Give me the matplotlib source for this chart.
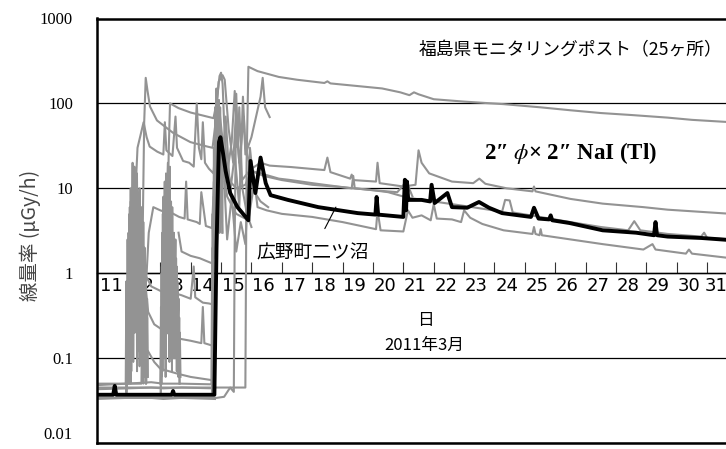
import numpy as np
import matplotlib
matplotlib.use("Agg")
import matplotlib.pyplot as plt
from matplotlib.ticker import FixedLocator, FixedFormatter, NullFormatter

# --- 広野町二ツ沼 (NaI) ---
hirono_day = [10.89, 11.45, 11.5, 11.55, 13.38, 13.42, 13.46, 14.78, 14.85, 14.93, 14.98, 15.05,
              15.15, 15.3, 15.54, 15.9, 15.97, 16.13, 16.3, 16.47, 16.63, 17.2, 18.2, 19.5,
              20.08, 20.12, 20.17, 21.0, 21.05, 21.09, 21.12, 21.16, 21.6, 21.88, 21.93, 22.03,
              22.45, 22.6, 23.1, 23.49, 23.82, 24.25, 25.2, 25.3, 25.45, 25.8, 25.85, 25.9,
              26.47, 27.56, 28.66, 29.25, 29.3, 29.35, 29.7, 30.8, 31.8]
hirono_dose = [0.037, 0.037, 0.047, 0.037, 0.037, 0.041, 0.037, 0.037, 2.0, 35, 40, 28,
               16, 8.8, 6.0, 4.2, 21, 8.8, 23, 11.5, 8.3, 7.3, 6.0, 5.1,
               4.9, 7.9, 4.9, 4.6, 12.6, 5.5, 12, 7.3, 7.3, 7.0, 11, 6.7,
               8.8, 6.0, 5.9, 6.9, 5.9, 5.1, 4.6, 5.9, 4.4, 4.3, 4.8, 4.2,
               3.9, 3.2, 3.0, 2.8, 4.0, 2.8, 2.7, 2.6, 2.45]

# --- 福島県モニタリングポスト (他局) ---
st_a_day = [10.89, 15.8, 15.84, 15.9, 16.2, 16.9, 17.5, 18.4, 18.5, 18.6, 19.5, 20.3, 20.9,
            21.2, 21.35, 21.5, 22.0, 23.0, 24.3, 25.5, 26.5, 27.5, 28.5, 29.7, 30.5, 31.8]
st_a_dose = [0.045, 0.045, 20, 270, 240, 205, 190, 174, 182, 172, 160, 150, 135,
             125, 135, 128, 112, 105, 98, 90, 83, 77, 73, 68, 64, 60]

st_b_day = [10.89, 12.38, 12.42, 12.47, 12.52, 12.58, 12.66, 12.89, 13.42, 13.99, 14.55, 14.72,
            14.82, 14.92, 15.05, 15.12, 15.25, 15.4, 15.5, 15.56, 15.65, 15.8, 16.0, 16.3,
            16.6, 17.3, 18.4, 18.5, 18.6, 19.25, 19.3, 19.35, 20.1, 20.15, 20.22, 21.0, 21.4,
            21.5, 21.6, 21.85, 22.6, 23.3, 23.5, 23.7, 24.4, 25.25, 25.3, 25.35, 26.5, 27.56,
            28.9, 29.7, 31.8]
st_b_dose = [0.05, 0.05, 3, 60, 200, 140, 92, 63, 45, 35, 31, 30,
             60, 180, 215, 190, 50, 20, 90, 30, 12, 14, 17, 20,
             18.5, 17.8, 16.4, 23, 15.5, 13, 14.5, 12.5, 12, 20, 11.5, 10.5, 11,
             28, 20, 15, 12, 11.5, 13, 11.3, 10, 9.2, 10.5, 9.2, 7.5, 6.6,
             6.0, 5.6, 5.0]

st_c_day = [13.22, 13.28, 13.32, 13.6, 14.0, 14.4, 14.75, 14.85, 14.95, 15.0, 15.05, 15.1,
            15.2, 15.35, 15.45, 15.5, 15.6, 15.75, 15.8, 16.0, 16.3, 16.37, 16.45, 16.6]
st_c_dose = [2, 30, 100, 88, 78, 72, 67, 100, 210, 230, 170, 60,
             15, 35, 140, 60, 20, 70, 25, 40, 120, 200, 90, 69]

st_d_day = [12.15, 12.25, 12.45, 12.55, 12.65, 12.9, 13.1, 13.15, 13.2, 13.4, 13.5, 13.55,
            13.75, 13.95, 14.1, 14.2, 14.27, 14.35, 14.4, 14.47, 14.6, 14.75, 14.85, 14.95,
            15.1, 15.3, 15.5, 15.8, 16.0, 16.3, 16.9, 17.3, 18.0, 18.4, 19.3, 19.35, 19.4,
            20.0, 20.5, 21.0, 21.3, 22.0, 23.0, 24.25, 24.35, 24.5, 24.6, 25.5, 26.5, 27.5,
            28.4, 28.6, 28.8, 29.7, 30.8, 30.9, 31.0, 31.8]
st_d_dose = [5, 30, 60, 40, 31, 27, 25, 60, 28, 24, 70, 30,
             21, 20, 18, 100, 30, 22, 60, 20, 17, 15, 40, 80,
             25, 12, 10, 11, 16, 15, 13, 12.5, 11.5, 11, 10, 14, 10,
             9.5, 9, 8, 7.6, 7, 6.2, 5.3, 7.3, 7.2, 5.2, 4.6, 4.0, 3.5,
             3.2, 4.1, 3.2, 2.9, 2.7, 3.0, 2.6, 2.5]

st_e_day = [12.55, 12.62, 12.77, 13.0, 13.2, 13.25, 13.3, 13.62, 13.8, 13.85, 13.9, 14.2,
            14.3, 14.35, 14.5, 14.7, 14.8, 14.9, 15.0, 15.2, 15.5, 15.9, 16.1, 16.2, 16.5,
            17.0, 18.0, 19.0, 20.1, 20.15, 20.25, 21.0, 21.15, 21.3, 21.6, 21.9, 22.0, 22.1,
            22.6, 22.9, 23.0, 23.2, 23.6, 24.3, 25.25, 25.3, 25.35, 25.48, 25.52, 25.56,
            26.5, 27.56, 28.9, 29.2, 29.3, 30.3, 30.4, 30.5, 31.8]
st_e_dose = [1, 3, 6, 5.5, 5.2, 20, 5.3, 4.6, 4.4, 12, 4.3, 4.0,
             3.8, 9, 3.6, 3.4, 20, 60, 25, 8, 5.0, 4.2, 12, 6, 5.5,
             5.0, 4.6, 4.0, 3.3, 5.5, 3.2, 3.1, 5.5, 4.5, 4.8, 4.2, 6.5, 4.4,
             4.3, 4.0, 5.5, 4.5, 3.8, 3.2, 2.9, 3.5, 2.9, 2.8, 3.3, 2.8,
             2.5, 2.2, 1.9, 2.2, 1.9, 1.7, 1.9, 1.7, 1.5]

st_f_day = [12.45, 12.55, 12.7, 13.0, 13.2, 13.3, 13.35, 13.7, 14.0, 14.1, 14.15, 14.4, 14.6, 14.72]
st_f_dose = [1.5, 0.9, 0.7, 0.62, 0.58, 1.5, 0.6, 0.55, 0.5, 1.2, 0.52, 0.45, 0.44, 0.43]

st_g_day = [12.5, 12.6, 12.8, 13.2, 13.6, 14.0, 14.35, 14.4, 14.45, 14.72]
st_g_dose = [0.8, 0.35, 0.25, 0.2, 0.17, 0.16, 0.15, 0.4, 0.15, 0.14]

st_h_day = [12.6, 12.8, 13.0, 13.6, 14.0, 14.7]
st_h_dose = [0.12, 0.09, 0.075, 0.065, 0.06, 0.055]

st_i_day = [13.6, 13.7, 14.0, 14.3, 14.5, 14.72]
st_i_dose = [3, 1.8, 1.6, 1.5, 1.4, 1.3]

st_j_day = [10.89, 14.85, 15.1, 15.3, 15.42, 15.45, 15.5, 15.55, 15.6, 15.7, 15.85, 16.0]
st_j_dose = [0.034, 0.034, 0.035, 0.045, 0.04, 3, 130, 30, 90, 10, 5, 3.5]

st_k_day = [14.8, 14.9, 15.0, 15.15, 15.3, 15.45, 15.6, 15.72, 15.8, 16.0, 16.4, 17.0,
            18.0, 19.0, 20.0, 20.8, 21.1, 21.3]
st_k_dose = [8, 40, 12, 70, 9, 25, 6, 120, 30, 16, 14, 12.5,
             11, 10.3, 9.5, 9, 12, 8]

st_l_day = [14.75, 14.85, 14.95, 15.05, 15.2, 15.35, 15.5, 15.65, 15.8, 15.95, 16.1, 16.3, 16.55]
st_l_dose = [1.5, 15, 3, 30, 2.5, 8, 1.8, 4, 2.2, 30, 9, 7, 6]

base_day = [10.89, 11.9, 12.7, 13.1, 13.7, 14.8]
base_k_dose = [0.043, 0.044, 0.045, 0.044, 0.045, 0.044]
base_l_dose = [0.033, 0.034, 0.034, 0.033, 0.034, 0.033]
base_m_dose = [0.048, 0.05, 0.052, 0.05, 0.05, 0.049]

# 30分値 (バースト期間)
burst1a_start, burst1a = 11.88, [0.05, 0.3, 0.06, 1.5, 0.08, 4, 0.2, 7, 0.5, 3, 0.1, 9, 1, 18, 0.4, 6,
                                 2, 12, 0.3, 8, 1.5, 5, 0.2, 4, 0.8, 3, 0.15, 2, 0.4, 1, 0.1, 0.6,
                                 0.08, 0.3, 0.06]
burst1b_start, burst1b = 11.90, [0.04, 0.1, 2, 0.05, 5, 0.3, 10, 0.07, 3, 20, 0.6, 14, 0.2, 9, 4, 0.5,
                                 15, 1, 7, 0.12, 10, 2, 0.3, 6, 1.2, 0.2, 4, 0.5, 2, 0.1, 1.2,
                                 0.07, 0.5, 0.06]
burst1c_start, burst1c = 11.86, [0.05, 0.8, 0.07, 2.5, 0.1, 1, 0.3, 5, 0.05, 3, 0.6, 6, 0.09, 2, 0.2,
                                 8, 0.4, 3, 0.07, 5, 0.3, 1.5, 0.08, 2, 0.2, 0.6, 0.07, 0.3, 0.05,
                                 0.4, 0.06, 0.2, 0.05]
burst1d_start, burst1d = 11.87, [0.04, 0.15, 0.6, 0.06, 3, 0.3, 6, 0.1, 4, 1.2, 8, 0.15, 5, 2.5, 0.3,
                                 7, 0.2, 4, 1, 9, 0.25, 3, 0.6, 5, 0.12, 2.5, 0.4, 3, 0.08, 1.5,
                                 0.1, 0.7, 0.05, 0.3]
burst2a_start, burst2a = 13.00, [0.05, 0.4, 0.06, 3, 0.1, 8, 0.3, 5, 1, 15, 0.2, 6, 2, 10, 0.5, 4,
                                 0.1, 7, 1.5, 3, 0.2, 2, 0.6, 0.9, 0.1, 1.5, 0.07, 0.8, 0.3, 0.5,
                                 0.07, 0.2, 0.06]
burst2b_start, burst2b = 13.02, [0.04, 1, 0.08, 5, 0.2, 2, 12, 0.1, 4, 0.7, 9, 0.3, 5, 1.2, 18, 0.4,
                                 3, 0.15, 6, 0.5, 1.5, 0.1, 0.8, 2.5, 0.2, 1.2, 0.08, 0.6, 0.1,
                                 0.3, 0.06]
burst2c_start, burst2c = 13.05, [0.05, 2, 0.3, 4, 0.1, 1.5, 0.06, 3, 0.8, 6, 0.2, 2.5, 0.09, 4, 0.4,
                                 1, 0.07, 2, 0.15, 0.5, 2, 0.1, 1, 0.3, 0.08, 0.5, 0.06, 0.2, 0.05]
burst2d_start, burst2d = 13.01, [0.04, 0.2, 1.2, 0.07, 4, 0.5, 7, 0.12, 3, 0.3, 5, 1.5, 0.2, 8, 0.8,
                                 3, 0.25, 4, 0.7, 2, 0.1, 3, 0.4, 1.4, 0.1, 0.8, 0.2, 0.5, 0.07,
                                 0.3, 0.05]
burst3a_start, burst3a = 14.68, [0.05, 0.8, 5, 1.5, 30, 4, 90, 10, 150, 20, 60, 8, 110, 15, 40, 6, 25, 3]
burst3b_start, burst3b = 14.70, [0.04, 2, 0.6, 12, 3, 50, 6, 130, 25, 70, 5, 30, 3, 90, 8, 20, 4, 12]
burst3c_start, burst3c = 14.72, [0.04, 0.5, 8, 2, 20, 60, 10, 100, 40, 12, 80, 18, 50, 5, 35, 10, 3]

day_ticks = list(range(12, 32))
day_labels = [str(d) for d in range(11, 32)]
# 右端の「31」は枠内に収める
day_label_pos = [d + 0.4 for d in range(11, 31)] + [31.28]

plt.rcParams['font.family'] = ['Liberation Serif', 'DejaVu Serif']
plt.rcParams['mathtext.fontset'] = 'stix'
fig = plt.figure(figsize=(7.26, 4.49), dpi=100)
W, H = 726, 449
ax = fig.add_axes([96.5 / W, 1 - 443 / H, (W - 96.5) / W, (443 - 18.5) / H])
ax.set_yscale('log')
ax.set_ylim(0.01, 1000)
ax.set_xlim(10.9, 31.62)

grey = '#939393'
lines = [(st_a_day, st_a_dose), (st_b_day, st_b_dose), (st_c_day, st_c_dose),
         (st_d_day, st_d_dose), (st_e_day, st_e_dose), (st_f_day, st_f_dose),
         (st_g_day, st_g_dose), (st_h_day, st_h_dose), (st_i_day, st_i_dose),
         (st_j_day, st_j_dose), (st_k_day, st_k_dose), (st_l_day, st_l_dose),
         (base_day, base_k_dose), (base_day, base_l_dose), (base_day, base_m_dose)]
for d, v in lines:
    ax.plot(d, v, color=grey, lw=1.5, zorder=2)

step = 1 / 48
bursts = [(burst1a_start, burst1a), (burst1b_start, burst1b), (burst1c_start, burst1c),
          (burst1d_start, burst1d), (burst2a_start, burst2a), (burst2b_start, burst2b),
          (burst2c_start, burst2c), (burst2d_start, burst2d), (burst3a_start, burst3a),
          (burst3b_start, burst3b), (burst3c_start, burst3c)]
for start, vals in bursts:
    t = start + step * np.arange(len(vals))
    ax.plot(t, vals, color=grey, lw=1.4, zorder=2)

ax.plot(hirono_day, hirono_dose, color='black', lw=2.8, zorder=3)

# 縦軸
ax.set_yticks([0.01, 0.1, 1, 10, 100, 1000])
ax.set_yticklabels(['0.01', '0.1', '1', '10', '100', '1000'])
ax.yaxis.set_minor_formatter(NullFormatter())
ax.tick_params(axis='y', which='both', length=0, pad=17, labelsize=12)
ax.get_yticklabels()[0].set_va('bottom')
ax.grid(axis='y', which='major', color='black', lw=0.9)
ax.set_axisbelow(True)
ax.tick_params(axis='x', which='both', bottom=False, labelbottom=False)
for s in ['left', 'top', 'bottom']:
    ax.spines[s].set_linewidth(1.8)
ax.spines['right'].set_visible(False)

# 日付軸 (1 μGy/h の線上)
pos = (np.log10(1) - np.log10(0.01)) / (np.log10(1000) - np.log10(0.01))
sec = ax.secondary_xaxis(pos)
sec.spines['bottom'].set_linewidth(1.0)
sec.xaxis.set_major_locator(FixedLocator(day_ticks))
sec.xaxis.set_major_formatter(NullFormatter())
sec.xaxis.set_minor_locator(FixedLocator(day_label_pos))
sec.xaxis.set_minor_formatter(FixedFormatter(day_labels))
sec.tick_params(axis='x', which='major', direction='in', length=8, width=0.8, color='#333333')
sec.tick_params(axis='x', which='minor', length=0, pad=3, labelsize=13)
for lab in sec.get_xticklabels(minor=True):
    lab.set_family(['Liberation Sans Narrow', 'DejaVu Sans'])

cjk = ['Noto Sans CJK JP', 'DejaVu Sans']
fig.text(30 / W, 1 - 235 / H, '線量率 (μGy/h)', rotation=90, ha='center', va='center',
         fontsize=14, family=cjk, color='#444444')
fig.text(425 / W, 1 - 320 / H, '日', ha='center', va='center', fontsize=12, family=cjk)
fig.text(424 / W, 1 - 345 / H, '2011年3月', ha='center', va='center', fontsize=12, family=cjk)
fig.text(571 / W, 1 - 50 / H, '福島県モニタリングポスト（25ヶ所）', ha='center', va='center',
         fontsize=12.8, family=cjk)
fig.text(570 / W, 1 - 153 / H, '2″ $\\phi$× 2″ NaI (Tl)', ha='center', va='center',
         fontsize=16.5, weight='bold', family=['Liberation Serif', 'DejaVu Serif'])
ax.annotate('広野町二ツ沼', xy=(18.78, 6.0), xytext=(18.0, 1.73), ha='center', va='center',
            fontsize=13.5, family=cjk,
            arrowprops=dict(arrowstyle='-', color='black', lw=0.8, shrinkA=9, shrinkB=0))

fig.savefig('out.png', dpi=100)
